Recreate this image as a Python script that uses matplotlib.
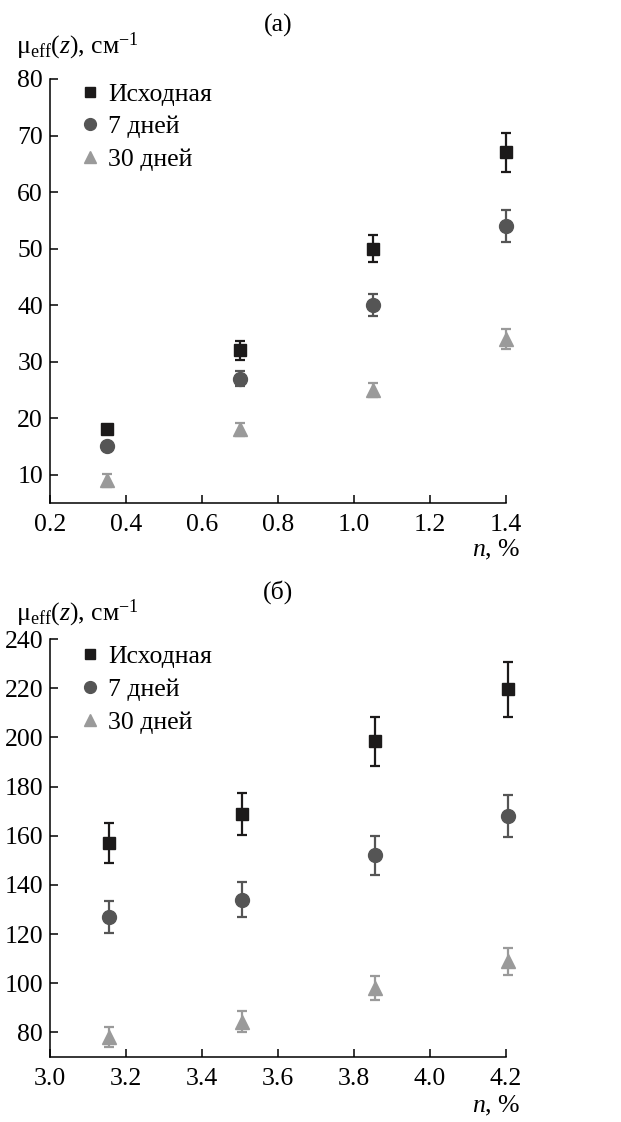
import matplotlib
matplotlib.use("Agg")
import matplotlib.pyplot as plt
from matplotlib.lines import Line2D

plt.rcParams['font.family'] = ['Liberation Serif', 'DejaVu Serif']
plt.rcParams['mathtext.fontset'] = 'custom'
plt.rcParams['mathtext.rm'] = 'Liberation Serif'
plt.rcParams['mathtext.it'] = 'Liberation Serif:italic'

labels = ['Исходная', '7 дней', '30 дней']

# panel (a)
xa = [0.35, 0.70, 1.05, 1.40]
ya_init = [18, 32, 50, 67]
ea_init = [0.0, 1.7, 2.4, 3.4]
ya_7 = [15, 27, 40, 54]
ea_7 = [0.0, 1.3, 2.0, 2.8]
ya_30 = [9, 18, 25, 34]
ea_30 = [1.2, 1.2, 1.3, 1.7]

# panel (b)
xb = [3.155, 3.505, 3.855, 4.205]
yb_init = [157, 169, 198.5, 219.5]
eb_init = [8.0, 8.6, 10.0, 11.2]
yb_7 = [127, 134, 152, 168]
eb_7 = [6.6, 7.0, 7.8, 8.5]
yb_30 = [78.2, 84.4, 98, 109]
eb_30 = [4.0, 4.3, 5.0, 5.5]

colors = ['#1c1a1a', '#555555', '#9a9a9a']
markers = ['s', 'o', '^']
msizes = [8.5, 10, 10.5]
fs = 18.5

fig = plt.figure(figsize=(6.21, 11.22), dpi=100)
axa = fig.add_axes([0.0805, 0.5517, 0.7343, 0.3779])
axb = fig.add_axes([0.0805, 0.0579, 0.7343, 0.3725])


def draw(ax, x, series, anchor_y):
    for (y, e), c, m, ms in zip(series, colors, markers, msizes):
        ax.errorbar(x, y, yerr=e, fmt=m, color=c, ms=ms, capsize=3.5,
                    elinewidth=1.6, capthick=1.6, clip_on=False)
    for s in ['top', 'right']:
        ax.spines[s].set_visible(False)
    for s in ['left', 'bottom']:
        ax.spines[s].set_linewidth(1.1)
    ax.tick_params(direction='in', length=6, width=1.1, labelsize=fs)
    ax.tick_params(axis='x', pad=8)
    ax.tick_params(axis='y', pad=5)
    handles = [Line2D([], [], ls='none', marker=m, color=c, ms=ms * 0.85)
               for c, m, ms in zip(colors, markers, msizes)]
    ax.legend(handles, labels, loc='upper left', bbox_to_anchor=(0.015, anchor_y),
              frameon=False, fontsize=fs, handlelength=0.8, handletextpad=0.3,
              labelspacing=0.38)


draw(axa, xa, [(ya_init, ea_init), (ya_7, ea_7), (ya_30, ea_30)], 1.046)
axa.set_xlim(0.2, 1.4)
axa.set_ylim(5, 80)
axa.set_xticks([0.2, 0.4, 0.6, 0.8, 1.0, 1.2, 1.4])
axa.set_yticks([10, 20, 30, 40, 50, 60, 70, 80])

draw(axb, xb, [(yb_init, eb_init), (yb_7, eb_7), (yb_30, eb_30)], 1.04)
axb.set_xlim(3.0, 4.2)
axb.set_ylim(70, 240)
axb.set_xticks([3.0, 3.2, 3.4, 3.6, 3.8, 4.0, 4.2])
axb.set_yticks([80, 100, 120, 140, 160, 180, 200, 220, 240])

for ax in (axa, axb):
    ax.xaxis.set_major_formatter(matplotlib.ticker.FormatStrFormatter('%.1f'))

ylab = r'μ$_{\rm eff}$($z$), см$^{-1}$'
fig.text(16 / 621, 1 - 53 / 1122, ylab, fontsize=fs, ha='left', va='baseline')
fig.text(16 / 621, 1 - 620 / 1122, ylab, fontsize=fs, ha='left', va='baseline')
fig.text(278 / 621, 1 - 25 / 1122, '(a)', fontsize=fs, ha='center', va='center')
fig.text(278 / 621, 1 - 592 / 1122, '(б)', fontsize=fs, ha='center', va='center')
fig.text(520 / 621, 1 - 550 / 1122, r'$n$, %', fontsize=fs, ha='right', va='center')
fig.text(520 / 621, 1 - 1106 / 1122, r'$n$, %', fontsize=fs, ha='right', va='center')

fig.savefig('out.png', dpi=100)
